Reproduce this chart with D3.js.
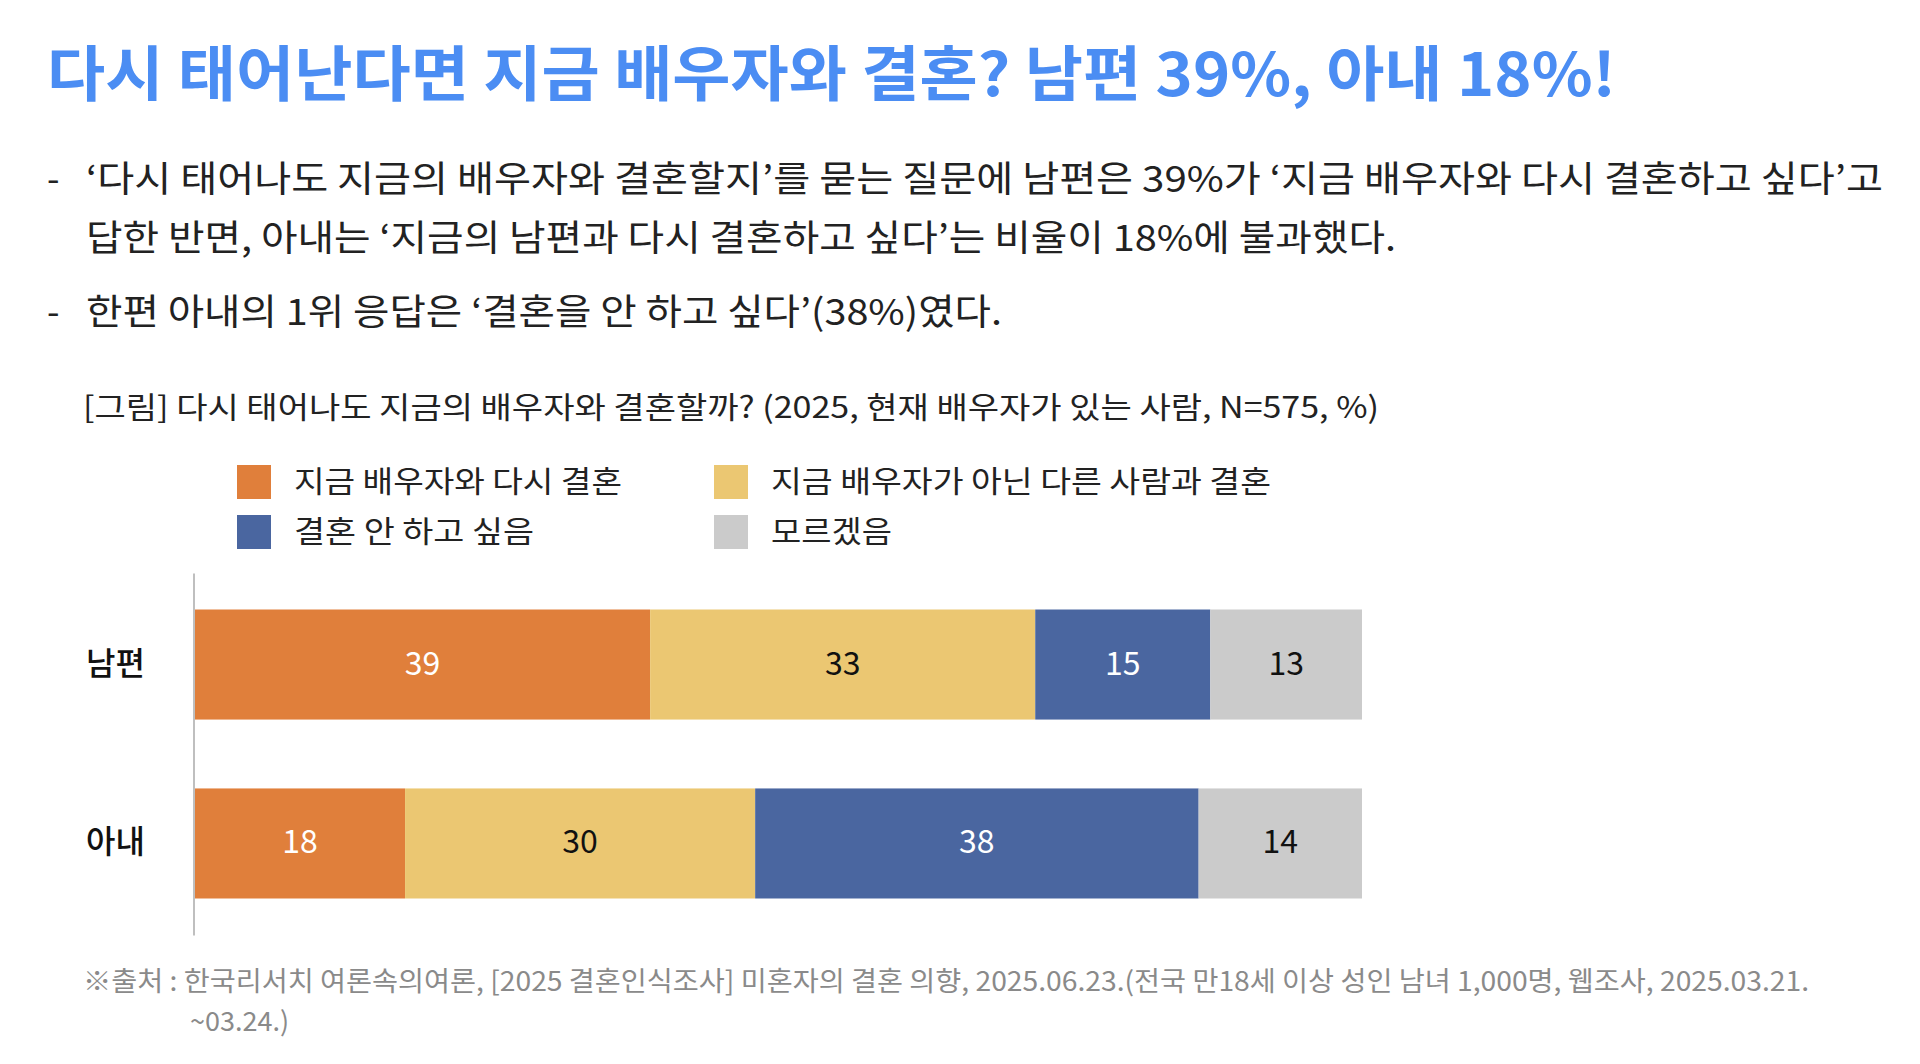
<!DOCTYPE html>
<html><head><meta charset="utf-8">
<script src="https://cdn.jsdelivr.net/npm/d3@7"></script>
<style>
html,body{margin:0;padding:0;background:#fff;}
svg{display:block;font-family:"Noto Sans CJK KR","Noto Sans",sans-serif;}
</style></head>
<body>
<svg id="chart" width="1920" height="1064"></svg>
<script>
// ---- data ----
const titleText = "다시 태어난다면 지금 배우자와 결혼? 남편 39%, 아내 18%!";
const bulletLines = [
  "‘다시 태어나도 지금의 배우자와 결혼할지’를 묻는 질문에 남편은 39%가 ‘지금 배우자와 다시 결혼하고 싶다’고",
  "답한 반면, 아내는 ‘지금의 남편과 다시 결혼하고 싶다’는 비율이 18%에 불과했다.",
  "한편 아내의 1위 응답은 ‘결혼을 안 하고 싶다’(38%)였다."
];
const captionText = "[그림] 다시 태어나도 지금의 배우자와 결혼할까? (2025, 현재 배우자가 있는 사람, N=575, %)";
const categories = ["남편", "아내"];
const seriesNames = ["지금 배우자와 다시 결혼", "지금 배우자가 아닌 다른 사람과 결혼", "결혼 안 하고 싶음", "모르겠음"];
const husbandValues = [39, 33, 15, 13];
const wifeValues = [18, 30, 38, 14];
const sourceLines = [
  "※출처 : 한국리서치 여론속의여론, [2025 결혼인식조사] 미혼자의 결혼 의향, 2025.06.23.(전국 만18세 이상 성인 남녀 1,000명, 웹조사, 2025.03.21.",
  "~03.24.)"
];

// ---- styles ----
const colors = ["#E07F3B", "#EBC772", "#4A66A0", "#CBCBCB"];
const labelColors = ["#ffffff", "#111111", "#ffffff", "#111111"];

const svg = d3.select("#chart");

function fit(sel, w) {
  const n = sel.node();
  const len = n.getComputedTextLength();
  if (Math.abs(len - w) > 4) sel.attr("textLength", w).attr("lengthAdjust", "spacingAndGlyphs");
  return sel;
}

// title
fit(svg.append("text").attr("x", 47).attr("y", 69).attr("dominant-baseline", "central")
  .attr("font-size", 60).attr("font-weight", 700).attr("fill", "#4B8DF3").text(titleText), 1569);

// bullets
const bulletY = [176, 235, 309];
const bulletW = [1797, 1310, 916];
bulletLines.forEach((t, i) => {
  if (i !== 1) {
    svg.append("text").attr("x", 47).attr("y", bulletY[i]).attr("dominant-baseline", "central")
      .attr("font-size", 36).attr("fill", "#222").text("-");
  }
  fit(svg.append("text").attr("x", 86).attr("y", bulletY[i]).attr("dominant-baseline", "central")
    .attr("font-size", 36).attr("fill", "#222").text(t), bulletW[i]);
});

// caption
fit(svg.append("text").attr("x", 83).attr("y", 405).attr("dominant-baseline", "central")
  .attr("font-size", 30).attr("fill", "#222").text(captionText), 1296);

// legend
const legendPos = [[237, 481], [714, 481], [237, 531], [714, 531]];
const legendW = [328, 500, 240, 121];
seriesNames.forEach((name, i) => {
  const [lx, ly] = legendPos[i];
  svg.append("rect").attr("x", lx).attr("y", ly - 16).attr("width", 34).attr("height", 34).attr("fill", colors[i]);
  fit(svg.append("text").attr("x", lx + 57).attr("y", ly - 2).attr("dominant-baseline", "central")
    .attr("font-size", 30).attr("fill", "#222").text(name), legendW[i]);
});

// chart
const x = d3.scaleLinear().domain([0, 100]).range([195, 1362]);
const y = d3.scaleBand().domain(categories).range([573, 935]).paddingInner(0.385).paddingOuter(0.204);
const rows = [husbandValues, wifeValues];

rows.forEach((vals, r) => {
  const cat = categories[r];
  let cum = 0;
  const segs = vals.map((v, i) => { const s = {i, v, x0: cum, x1: cum + v}; cum += v; return s; });
  const g = svg.append("g");
  g.selectAll("rect").data(segs).join("rect")
    .attr("x", d => x(d.x0)).attr("y", y(cat))
    .attr("width", d => x(d.x1) - x(d.x0)).attr("height", y.bandwidth())
    .attr("fill", d => colors[d.i]);
  g.selectAll("text").data(segs).join("text")
    .attr("x", d => (x(d.x0) + x(d.x1)) / 2).attr("y", y(cat) + y.bandwidth() / 2 - 4)
    .attr("text-anchor", "middle").attr("dominant-baseline", "central")
    .attr("font-size", 32).attr("fill", d => labelColors[d.i]).text(d => d.v);
});

// category axis
const yAxis = svg.append("g").attr("transform", `translate(${x(0) - 1.5},0)`)
  .call(d3.axisLeft(y).tickSize(0).tickPadding(45));
yAxis.select(".domain").attr("stroke", "#aaa").attr("stroke-width", 1.5);
yAxis.selectAll("text").attr("font-size", 32).attr("font-weight", 500).attr("fill", "#111")
  .attr("font-family", "'Noto Sans CJK KR', sans-serif").attr("text-anchor", "start").attr("dx", 0)
  .attr("x", 86 - (x(0) - 1.5)).attr("dy", null).attr("y", -4).attr("dominant-baseline", "central");

// source
fit(svg.append("text").attr("x", 83).attr("y", 979).attr("dominant-baseline", "central")
  .attr("font-size", 27).attr("fill", "#8a8a8a").text(sourceLines[0]), 1726);
svg.append("text").attr("x", 190).attr("y", 1019).attr("dominant-baseline", "central")
  .attr("font-size", 27).attr("fill", "#8a8a8a").text(sourceLines[1]);
</script>
</body></html>
